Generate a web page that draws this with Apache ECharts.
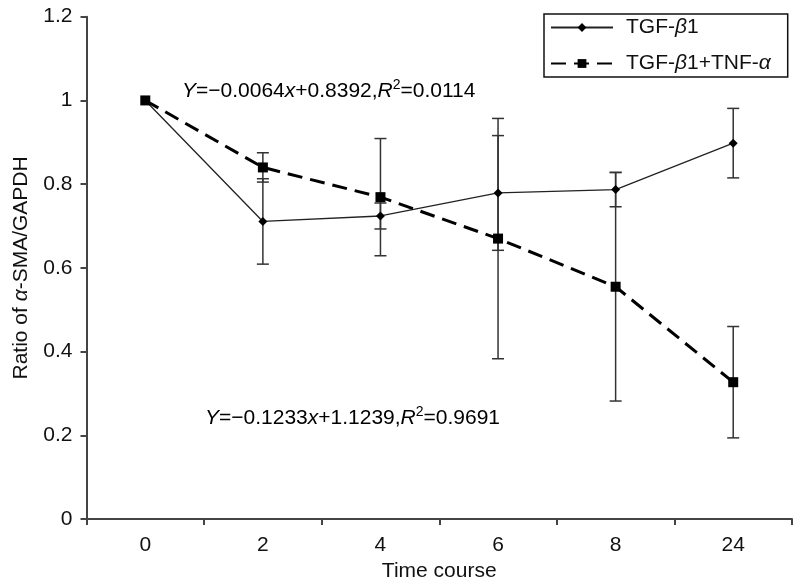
<!DOCTYPE html>
<html>
<head>
<meta charset="utf-8">
<script src="https://cdn.jsdelivr.net/npm/echarts@6/dist/echarts.min.js"></script>
<style>
html,body{margin:0;padding:0;background:#fff;}
#c{width:800px;height:587px;}
</style>
</head>
<body>
<div id="c"></div>
<script>
// ---- data ----
const categories = ['0', '2', '4', '6', '8', '24'];
const tgfValues = [1.0, 0.711, 0.724, 0.779, 0.787, 0.898];
const tgfErrors = [0, 0.102, 0.031, 0.137, 0.041, 0.083];
const tnfValues = [1.0, 0.840, 0.769, 0.670, 0.555, 0.327];
const tnfErrors = [0, 0.035, 0.140, 0.287, 0.273, 0.133];
const yMin = 0, yMax = 1.2, yStep = 0.2;
const seriesNames = ['TGF-β1', 'TGF-β1+TNF-α'];
const xTitle = 'Time course';
const yTitle = 'Ratio of {i|α}-SMA/GAPDH';
const eq1 = ['Y', '=−0.0064', 'x', '+0.8392,', 'R', '2', '=0.0114'];
const eq2 = ['Y', '=−0.1233', 'x', '+1.1239,', 'R', '2', '=0.9691'];

const FONT = 'Liberation Sans, Arial, Helvetica, sans-serif';
const TXT = '#111';
const FS = 21;

function errData(vals, errs) {
  const out = [];
  vals.forEach((v, i) => { if (errs[i] > 0) out.push([i, v - errs[i], v + errs[i]]); });
  return out;
}
function errSeries(vals, errs, color, width) {
  return {
    type: 'custom',
    silent: true,
    z: 1,
    data: errData(vals, errs),
    encode: { x: 0, y: [1, 2] },
    renderItem: function (params, api) {
      const i = api.value(0);
      const lo = api.coord([i, api.value(1)]);
      const hi = api.coord([i, api.value(2)]);
      const cw = 6;
      const st = { stroke: color, lineWidth: width };
      return {
        type: 'group',
        children: [
          { type: 'line', shape: { x1: lo[0], y1: lo[1], x2: hi[0], y2: hi[1] }, style: st },
          { type: 'line', shape: { x1: lo[0] - cw, y1: lo[1], x2: lo[0] + cw, y2: lo[1] }, style: st },
          { type: 'line', shape: { x1: hi[0] - cw, y1: hi[1], x2: hi[0] + cw, y2: hi[1] }, style: st }
        ]
      };
    }
  };
}
function eqText(parts) {
  return '{i|' + parts[0] + '}{n|' + parts[1] + '}{i|' + parts[2] + '}{n|' + parts[3] + '}{i|' + parts[4] + '}{sup|' + parts[5] + '}{n|' + parts[6] + '}';
}
const eqRich = {
  n: { fontSize: FS, fontFamily: FONT, color: TXT },
  i: { fontSize: FS, fontFamily: FONT, color: TXT, fontStyle: 'italic' },
  sup: { fontSize: 14, fontFamily: FONT, color: TXT, padding: [0, 0, 12, 0] }
};

const chart = echarts.init(document.getElementById('c'), null, { renderer: 'canvas' });
chart.setOption({
  animation: false,
  backgroundColor: '#fff',
  grid: { left: 86.5, right: 8, top: 16.7, bottom: 65, containLabel: false },
  legend: {
    orient: 'vertical',
    left: 544,
    top: 14,
    padding: [3, 17, 3, 6],
    borderColor: '#111',
    borderWidth: 1.5,
    itemWidth: 62,
    itemHeight: 11,
    itemGap: 15,
    data: seriesNames,
    formatter: function (name) {
      return name.replace('β', '{i|β}').replace('α', '{i|α}');
    },
    textStyle: {
      fontSize: FS, fontFamily: FONT, color: TXT, padding: [0, 0, 0, 8],
      rich: { i: { fontSize: FS, fontFamily: FONT, color: TXT, fontStyle: 'italic' } }
    }
  },
  xAxis: {
    type: 'category',
    data: categories,
    boundaryGap: true,
    name: xTitle,
    nameLocation: 'middle',
    nameGap: 40,
    nameTextStyle: { fontSize: FS, fontFamily: FONT, color: TXT },
    axisLine: { lineStyle: { color: '#444', width: 2 } },
    axisTick: { show: true, length: 6, inside: false, lineStyle: { color: '#444', width: 2 } },
    axisLabel: { fontSize: FS, fontFamily: FONT, color: TXT, margin: 16 },
    splitLine: { show: false }
  },
  yAxis: {
    type: 'value',
    min: yMin, max: yMax, interval: yStep,
    name: yTitle,
    nameLocation: 'middle',
    nameGap: 55,
    nameTextStyle: {
      fontSize: FS, fontFamily: FONT, color: TXT,
      rich: { i: { fontSize: FS, fontFamily: FONT, color: TXT, fontStyle: 'italic' } }
    },
    axisLine: { show: true, lineStyle: { color: '#444', width: 2 } },
    axisTick: { show: true, length: 6, lineStyle: { color: '#444', width: 2 } },
    axisLabel: { fontSize: FS, fontFamily: FONT, color: TXT, margin: 14 },
    splitLine: { show: false }
  },
  graphic: [
    { type: 'text', x: 182, y: 91, style: { text: eqText(eq1), rich: eqRich, verticalAlign: 'middle', align: 'left' } },
    { type: 'text', x: 205, y: 418, style: { text: eqText(eq2), rich: eqRich, verticalAlign: 'middle', align: 'left' } }
  ],
  series: [
    errSeries(tgfValues, tgfErrors, '#333', 1.5),
    errSeries(tnfValues, tnfErrors, '#333', 1.5),
    {
      name: seriesNames[0],
      type: 'line',
      data: tgfValues,
      z: 3,
      symbol: 'diamond',
      symbolSize: 9,
      itemStyle: { color: '#000' },
      lineStyle: { color: '#222', width: 1.3 }
    },
    {
      name: seriesNames[1],
      type: 'line',
      data: tnfValues,
      z: 4,
      symbol: 'rect',
      symbolSize: 10,
      itemStyle: { color: '#000' },
      lineStyle: { color: '#000', width: 3, type: [15, 8] }
    }
  ]
});
</script>
</body>
</html>
